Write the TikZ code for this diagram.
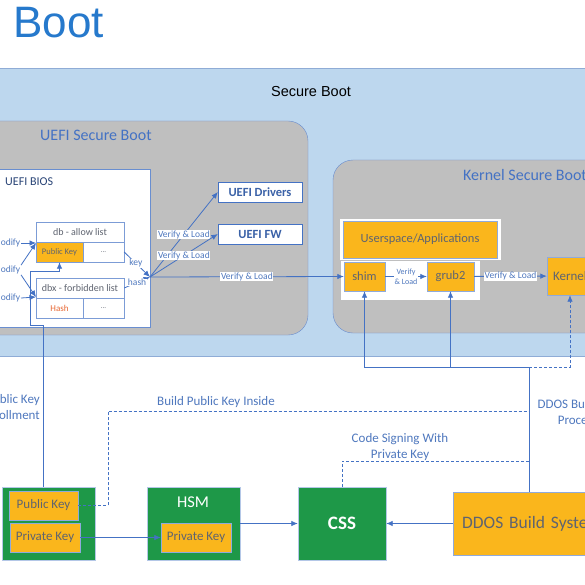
\documentclass[tikz,border=0pt]{standalone}
\usepackage{fontspec}
\setmainfont{Carlito}
\newfontfamily\arialfont{Liberation Sans}
\usetikzlibrary{arrows.meta,positioning}
\definecolor{bandblue}{RGB}{189,215,238}
\definecolor{bandline}{RGB}{143,172,214}
\definecolor{boxgrey}{RGB}{191,191,191}
\definecolor{lineblue}{RGB}{68,114,196}
\definecolor{lblblue}{RGB}{79,120,190}
\definecolor{keyorange}{RGB}{250,182,28}
\definecolor{hsmgreen}{RGB}{30,152,72}
\definecolor{celltext}{RGB}{95,100,112}
\definecolor{titleblue}{RGB}{38,121,204}
\definecolor{hashred}{RGB}{232,104,52}

\tikzset{
  cell/.style={draw=lineblue!70,fill=white,inner sep=0pt,text=celltext,font=\fontsize{10}{12}\selectfont},
  obox/.style={draw=lineblue!60,fill=keyorange,inner sep=0pt,text=celltext,font=\fontsize{12.5}{15}\selectfont},
  gbox/.style={draw=lineblue!40,fill=hsmgreen,inner sep=0pt,text=white},
  fwbox/.style={draw=lineblue,fill=white,inner sep=0pt,text=lineblue!85!black,font=\bfseries\fontsize{12.5}{15}\selectfont},
  lbl/.style={fill=white,inner sep=0.6pt,text=lblblue,font=\fontsize{9.5}{11}\selectfont},
  note/.style={inner sep=0pt,text=lblblue,font=\fontsize{13}{16}\selectfont,align=center},
  arr/.style={draw=lineblue,line width=0.8pt,-{Latex[length=6.5pt,width=5.5pt]}},
  wire/.style={draw=lineblue,line width=0.8pt},
  dashwire/.style={draw=lineblue,line width=0.8pt,dash pattern=on 3pt off 2pt},
}

\begin{document}
\begin{tikzpicture}[x=1pt,y=-1pt]
\useasboundingbox (0,0) rectangle (585,585);
\clip (0,0) rectangle (585,585);
\fill[white] (0,0) rectangle (585,585);
\node[anchor=base east,inner sep=0pt,text=titleblue,font=\arialfont\fontsize{44}{50}\selectfont] (title) at (104,38) {Secure Boot};

\path[draw=bandline,fill=bandblue] (-5,68) rectangle (590,356);
\node[font=\arialfont\fontsize{14.5}{17}\selectfont] (secboot) at (311,92) {Secure Boot};

\path[draw=lineblue!80,fill=boxgrey,rounded corners=20] (-30,121) rectangle (308,335);
\node[anchor=west,inner sep=0pt,text=lineblue,font=\fontsize{16}{19}\selectfont] (uefisb) at (40,135) {UEFI Secure Boot};
\path[draw=lineblue!80,fill=white] (-10,169) rectangle (150,327);
\node[anchor=west,inner sep=0pt,text=lineblue!60!black,font=\fontsize{12}{14}\selectfont] (bios) at (5,182) {UEFI BIOS};

\node[cell,minimum width=88,minimum height=20] (db) at (80,232) {db - allow list};
\node[cell,fill=keyorange,font=\fontsize{8.5}{10}\selectfont,minimum width=47,minimum height=20] (dbpk) at (59.5,252) {Public Key};
\node[cell,font=\fontsize{7}{8}\selectfont,minimum width=41,minimum height=20] (dbmore) at (103.5,252) {...};
\node[cell,minimum width=88,minimum height=20] (dbx) at (80,288) {dbx - forbidden list};
\node[cell,text=hashred,font=\fontsize{9}{10}\selectfont,minimum width=47,minimum height=20] (dbxhash) at (59.5,308) {Hash};
\node[cell,font=\fontsize{7}{8}\selectfont,minimum width=41,minimum height=20] (dbxmore) at (103.5,308) {...};

\node[lbl,anchor=east] (mod1) at (21,243) {Modify};
\node[lbl,anchor=east] (mod2) at (21,270) {Modify};
\node[lbl,anchor=east] (mod3) at (21,298) {Modify};
\coordinate (dbin) at (36,243);
\coordinate (dbxin) at (36,297);
\draw[arr] (mod1.east) -- (dbin);
\draw[arr] (mod2.north east) -- (dbin);
\draw[arr] (mod2.south east) -- (dbxin);
\draw[arr] (mod3.east) -- (dbxin);

\coordinate (hub) at (150,277);
\draw[arr] (dbmore.east) -- node[lbl,pos=0.45] (lkey) {key} (hub);
\draw[arr] (dbx.east) -- node[lbl,pos=0.5] (lhash) {hash} (hub);

\node[fwbox,minimum width=84,minimum height=20] (drv) at (260,192) {UEFI Drivers};
\node[fwbox,minimum width=84,minimum height=20] (fw) at (260,234) {UEFI FW};

\path[draw=lineblue!80,fill=boxgrey,rounded corners=20] (333,160) rectangle (640,333);
\node[anchor=west,inner sep=0pt,text=lineblue,font=\fontsize{16}{19}\selectfont] (kernsb) at (463,175) {Kernel Secure Boot};
\path[fill=white,draw=black!25] (340,260) rectangle (480,300);
\path[fill=white] (340,219) rectangle (501,260);
\node[obox,minimum width=154,minimum height=37] (user) at (420,239.5) {Userspace/Applications};
\node[obox,minimum width=41,minimum height=29] (shim) at (364.5,276.5) {shim};
\node[obox,minimum width=47,minimum height=29] (grub) at (450.5,276.5) {grub2};
\node[obox,font=\fontsize{13}{15}\selectfont,minimum width=46,minimum height=38] (kern) at (570,276) {Kernel};

\draw[arr] (hub) -- node[lbl,pos=0.5] (lv1) {Verify \& Load} (drv.west);
\draw[arr] (hub) -- node[lbl,pos=0.5] (lv2) {Verify \& Load} (fw.west);
\draw[arr] (hub) -- node[lbl,pos=0.5] (lv3) {Verify \& Load} (shim.west);
\draw[arr] (shim) -- node[lbl,font=\fontsize{8}{10}\selectfont,align=center] (lv4) {Verify\\\& Load} (grub);
\draw[arr] (grub) -- node[lbl] (lv5) {Verify \& Load} (kern);

\node[gbox,minimum width=93,minimum height=73] (keys) at (48.5,523.5) {};
\node[obox,font=\fontsize{13}{15}\selectfont,minimum width=69,minimum height=29] (pubk) at (43.5,505.5) {Public Key};
\node[obox,font=\fontsize{13}{15}\selectfont,minimum width=70,minimum height=29] (privk) at (45,537.5) {Private Key};
\node[gbox,minimum width=93,minimum height=73] (hsm) at (193.5,523.5) {};
\node[text=white,inner sep=0pt,font=\fontsize{16.5}{19}\selectfont] (hsmlbl) at (193,502) {HSM};
\node[obox,font=\fontsize{13}{15}\selectfont,minimum width=70,minimum height=29] (hpriv) at (196,537.5) {Private Key};
\node[gbox,font=\bfseries\fontsize{19}{22}\selectfont,minimum width=88,minimum height=73] (css) at (342,523.5) {CSS};
\node[obox,anchor=west,font=\fontsize{17.5}{20}\selectfont,minimum width=170,minimum height=63,inner xsep=9pt,text width=152pt,align=left] (ddos) at (453,523.5) {DDOS Build System};

\draw[arr] (privk) -- (hpriv);
\draw[arr] (hsm) -- (css);
\draw[arr] (ddos) -- (css);

\coordinate (enrx) at (43,0);
\draw[arr] (keys.north -| enrx) |- (30,325) |- (59.5,271) -- (dbpk.south);
\node[note,anchor=north east,align=right] (enroll) at (40,394) {Public Key\\Enrollment};

\coordinate (bus) at (529,367);
\draw[wire] (ddos.north -| bus) -- (bus);
\draw[arr] (bus) -| (shim.south);
\draw[arr] (bus) -| (grub.south);
\draw[arr,dashwire] (bus) -| (kern.south);
\node[note,anchor=north east,align=right] (ddosproc) at (598,399) {DDOS Build\\Process};

\draw[dashwire] (pubk.east) -| (108,411) -- (529,411);
\node[note] (bpki) at (216,402) {Build Public Key Inside};
\draw[dashwire] (css.north) |- (529,461);
\node[note] (csig) at (400,447) {Code Signing With\\Private Key};
\end{tikzpicture}
\end{document}
